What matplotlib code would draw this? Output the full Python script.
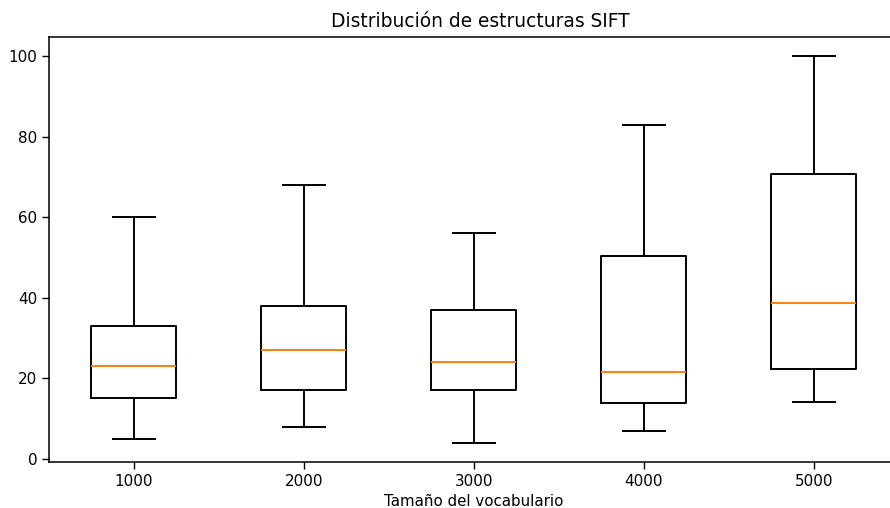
import matplotlib
matplotlib.use("Agg")
from matplotlib import pyplot as plt

vocab_sizes = [1000, 2000, 3000, 4000, 5000]
whisker_low = [5, 8, 4, 7, 14]
q1 = [15, 17, 17, 13.9, 22.3]
medians = [23, 27, 24, 21.6, 38.7]
q3 = [33, 38, 37, 50.4, 70.6]
whisker_high = [60, 68, 56, 83, 100]


stats = []
for size, lo, a, m, b, hi in zip(vocab_sizes, whisker_low, q1, medians, q3, whisker_high):
    stats.append({"label": str(size), "whislo": lo, "q1": a, "med": m,
                  "q3": b, "whishi": hi, "fliers": []})

fig = plt.figure(figsize=(8.9, 5.08), dpi=100)
ax = fig.add_axes([0.055, 0.0906, 0.955, 0.837])

lw = 1.4
ax.bxp(stats, positions=vocab_sizes, widths=500,
       boxprops=dict(linewidth=lw),
       whiskerprops=dict(linewidth=lw),
       capprops=dict(linewidth=lw),
       medianprops=dict(linewidth=lw, color="#ff7f0e"))

ax.set_xlim(500, 5500)
ax.set_ylim(-0.8, 104.8)
ax.set_yticks([0, 20, 40, 60, 80, 100])
ax.tick_params(labelsize=10.9, length=5, width=1.0)
for s in ax.spines.values():
    s.set_linewidth(1.1)

ax.set_xlabel("Tamaño del vocabulario", fontsize=10.8, labelpad=4)
ax.set_title("Distribución de estructuras SIFT", fontsize=13.4, pad=7, x=0.508)

fig.savefig("out.png", dpi=100)
